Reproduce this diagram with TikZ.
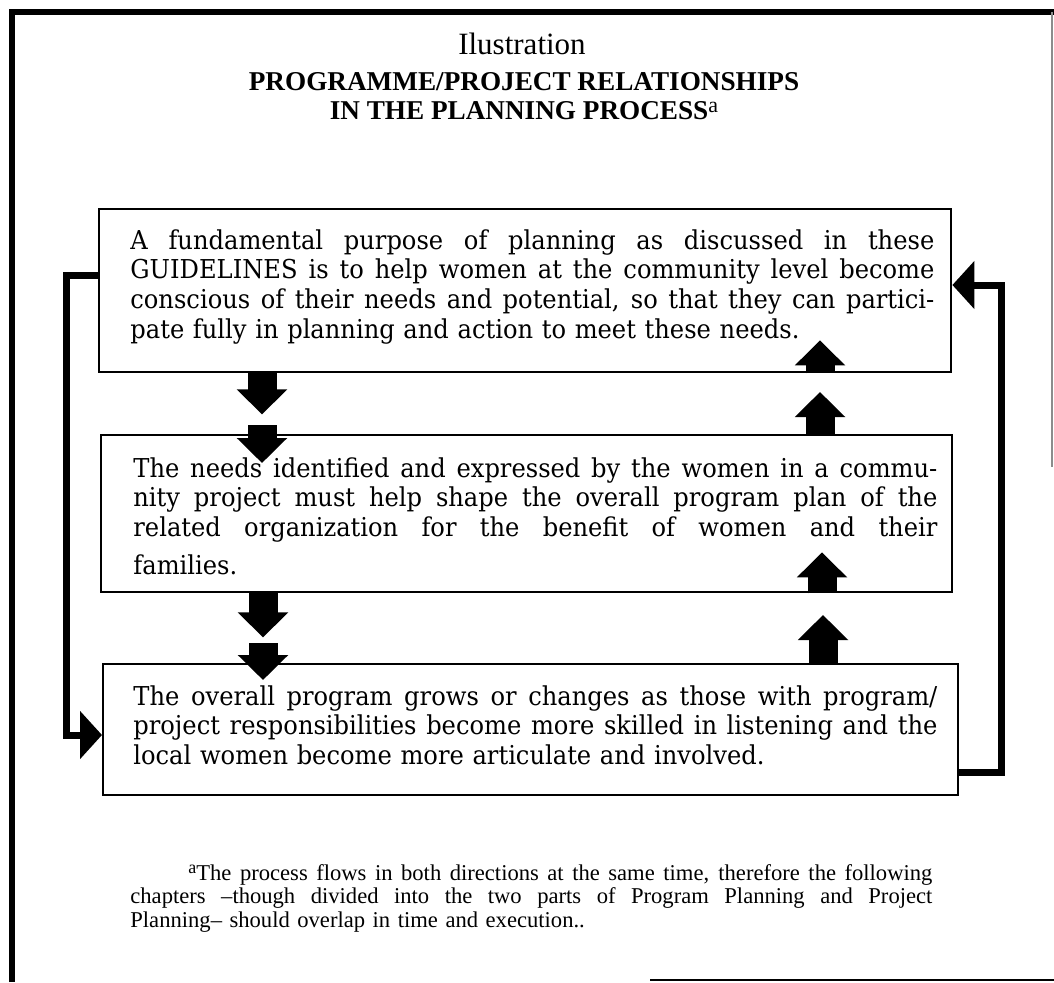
\documentclass[tikz,border=0pt]{standalone}
\usepackage{fontspec}
\setmainfont{Liberation Serif}
\newfontfamily\panelfont[FakeStretch=0.93]{DejaVu Serif}
\usetikzlibrary{arrows.meta,calc}
\newcommand{\fullline}[1]{{\spaceskip=0pt\xspaceskip=0pt\makebox[\hsize][s]{#1}}}

\begin{document}
\begin{tikzpicture}[x=0.5pt,y=-0.5pt,
    panel/.style={draw,line width=1.2pt,inner sep=0pt,anchor=north west},
    panel text/.style={anchor=base west,inner sep=0pt,text width=402pt,align=left,
      font=\panelfont\fontsize{13}{14.85}\selectfont},
    block arrow/.style={line width=14.5pt,-{Triangle[length=12.5pt,width=24.5pt]}},
    loop line/.style={line width=3.5pt,line join=miter,-{Triangle[length=11pt,width=23.5pt]}}]
  \useasboundingbox (0,0) rectangle (1054,982);
  \draw[line width=3pt] (12,982) -- (12,12) -- (1054,12);
  \draw[black!45,line width=0.6pt] (1052,12) -- (1052,467);
  \draw[line width=1pt] (650,980) -- (1054,980);

  \node[anchor=base,font=\fontsize{15.5}{16}\selectfont] (caption) at (522,54) {Ilustration};
  \node[anchor=base,align=center,font=\bfseries\fontsize{13.6}{14.5}\selectfont] (title) at (524,119)
    {PROGRAMME/PROJECT RELATIONSHIPS\\
     IN THE PLANNING PROCESS\raisebox{0.25em}{\mdseries\fontsize{11}{11}\selectfont a}};

  \node[panel,minimum width=426pt,minimum height=81.5pt] (purpose) at (98,208) {};
  \node[panel,minimum width=425.5pt,minimum height=78.5pt] (needs) at (100,434) {};
  \node[panel,minimum width=427.5pt,minimum height=65.5pt] (growth) at (102,663) {};

  \draw[block arrow] ($(purpose.south west)+(164,0)$) -- ++(0,41);
  \draw[block arrow] ($(needs.north west)+(162,-9)$) -- ++(0,38);
  \draw[block arrow] ($(needs.south west)+(163,0)$) -- ++(0,44);
  \draw[block arrow] ($(growth.north west)+(161,-20)$) -- ++(0,37);
  \draw[block arrow] ($(purpose.south west)+(722,0)$) -- ++(0,-33);
  \draw[block arrow] ($(needs.north west)+(720,0)$) -- ++(0,-42);
  \draw[block arrow] ($(needs.south west)+(722,0)$) -- ++(0,-41);
  \draw[block arrow] ($(growth.north west)+(721,0)$) -- ++(0,-48);

  \draw[loop line] (purpose.west |- 0,275) -| (66,735) -- (growth.west |- 0,735);
  \draw[loop line] (growth.east |- 0,772) -| (1001,285) -- (purpose.east |- 0,285);

  \node[panel text] (purpose text) at (130,249) {%
    \fullline{A fundamental purpose of planning as discussed in these}\\
    \fullline{GUIDELINES is to help women at the community level become}\\
    \fullline{conscious of their needs and potential, so that they can partici-}\\
    pate fully in planning and action to meet these needs.};
  \node[panel text] (needs text) at (133,477) {%
    \fullline{The needs identified and expressed by the women in a commu-}\\
    \fullline{nity project must help shape the overall program plan of the}\\
    \fullline{related organization for the benefit of women and their}\\[4pt]
    families.};
  \node[panel text] (growth text) at (133,705) {%
    \fullline{The overall program grows or changes as those with program/}\\
    \fullline{project responsibilities become more skilled in listening and the}\\
    local women become more articulate and involved.};

  \node[anchor=base west,inner sep=0pt,text width=401pt,align=left,
    font=\fontsize{11.3}{11.75}\selectfont] (note) at (130,880) {%
    \fullline{\hspace*{29pt}\raisebox{0.3em}{\fontsize{9}{9}\selectfont a}The process flows in both directions at the same time, therefore the following}\\
    \fullline{chapters --though divided into the two parts of Program Planning and Project}\\
    Planning-- should overlap in time and execution..};
\end{tikzpicture}
\end{document}
